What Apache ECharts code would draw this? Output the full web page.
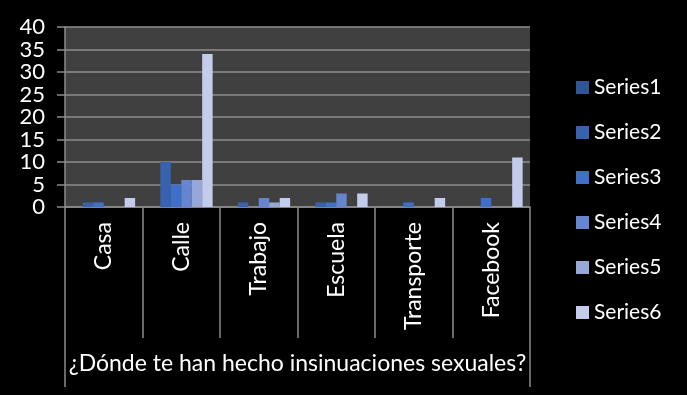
<!DOCTYPE html>
<html>
<head>
<meta charset="utf-8">
<script src="https://cdn.jsdelivr.net/npm/echarts@6/dist/echarts.min.js"></script>
<style>
html,body{margin:0;padding:0;background:#000;}
#c{width:687px;height:395px;}
</style>
</head>
<body>
<div id="c"></div>
<script>
const categories = ['Casa', 'Calle', 'Trabajo', 'Escuela', 'Transporte', 'Facebook'];
const seriesNames = ['Series1', 'Series2', 'Series3', 'Series4', 'Series5', 'Series6'];
const series1 = [0, 0, 0, 0, 0, 0];
const series2 = [1, 10, 1, 1, 0, 0];
const series3 = [1, 5, 0, 1, 1, 2];
const series4 = [0, 6, 2, 3, 0, 0];
const series5 = [0, 6, 1, 0, 0, 0];
const series6 = [2, 34, 2, 3, 2, 11];
const axisTitle = '¿Dónde te han hecho insinuaciones sexuales?';
const yTicks = { min: 0, max: 40, interval: 5 };

const colors = ['#2f5596', '#3862ad', '#3f70c8', '#6585d0', '#97a8d8', '#c3cceb'];
const values = [series1, series2, series3, series4, series5, series6];
const font = 'Lato';

const chart = echarts.init(document.getElementById('c'));
chart.setOption({
  backgroundColor: '#000',
  animation: false,
  color: colors,
  textStyle: { fontFamily: font },
  grid: { left: 65, right: 157, top: 27, bottom: 188, show: true, backgroundColor: '#404040', borderWidth: 0 },
  legend: {
    orient: 'vertical', left: 571, top: 72,
    itemWidth: 13, itemHeight: 13, itemGap: 24, icon: 'rect',
    textStyle: { color: '#fff', fontSize: 21, fontFamily: font },
    data: seriesNames
  },
  xAxis: [{
    type: 'category', data: categories, position: 'bottom',
    axisLine: { lineStyle: { color: '#8c8c8c', width: 1.5 } },
    axisTick: { show: true, length: 131, lineStyle: { color: '#8c8c8c', width: 1.5 } },
    axisLabel: { rotate: 90, margin: 15, color: '#fff', fontSize: 23, fontFamily: font, interval: 0 },
    splitLine: { show: false }
  }, {
    type: 'category', data: [axisTitle], position: 'bottom',
    axisLine: { show: false },
    axisTick: { show: true, length: 180, lineStyle: { color: '#8c8c8c', width: 1.5 } },
    axisLabel: { margin: 145, color: '#fff', fontSize: 23, fontFamily: font }
  }],
  yAxis: {
    type: 'value', min: yTicks.min, max: yTicks.max, interval: yTicks.interval,
    axisLine: { show: true, lineStyle: { color: '#8c8c8c', width: 1.5 } },
    axisTick: { show: true, length: 8, lineStyle: { color: '#8c8c8c', width: 1.5 } },
    axisLabel: { color: '#fff', fontSize: 22, fontFamily: font, margin: 20 },
    splitLine: { lineStyle: { color: '#8c8c8c', width: 1.5 } }
  },
  series: seriesNames.map((n, i) => ({
    name: n, type: 'bar', xAxisIndex: 0, data: values[i],
    barGap: '0%', barCategoryGap: '19%',
    itemStyle: { color: colors[i] }
  }))
});
</script>
</body>
</html>
